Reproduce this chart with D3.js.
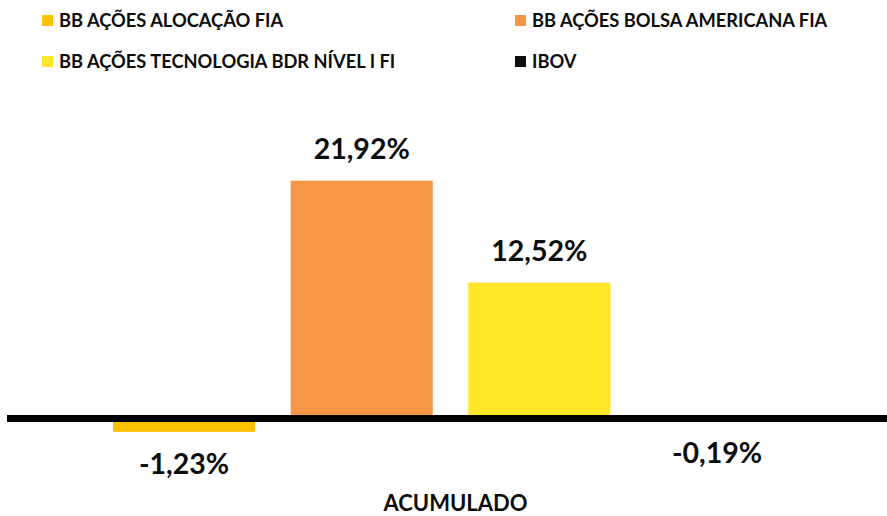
<!DOCTYPE html>
<html>
<head>
<meta charset="utf-8">
<script src="https://cdn.jsdelivr.net/npm/d3@7"></script>
<style>
  body { margin: 0; background: #fff; }
  text { font-family: Lato, "Open Sans", sans-serif; font-weight: bold; fill: #0d0d0d; }
</style>
</head>
<body>
<div id="chart"></div>
<script>
// data
const category = "ACUMULADO";
const series = ["BB AÇÕES ALOCAÇÃO FIA", "BB AÇÕES BOLSA AMERICANA FIA", "BB AÇÕES TECNOLOGIA BDR NÍVEL I FI", "IBOV"];
const values = [-1.23, 21.92, 12.52, -0.19];
const colors = ["#ffc000", "#f79646", "#ffe629", "#0d0d0d"];

const width = 887, height = 516;

const svg = d3.select("#chart")
    .append("svg")
    .attr("width", width)
    .attr("height", height);

const x = d3.scaleBand()
    .domain(series)
    .range([95.2, 805.9])
    .paddingInner(0.2)
    .paddingOuter(0.1);

const y = d3.scaleLinear()
    .domain([-5, 25])
    .range([472.75, 147.25]);

// pt-BR style: comma decimal, plain hyphen for the minus
const fmt = v => (v < 0 ? "-" : "") + Math.abs(v).toFixed(2).replace(".", ",") + "%";

// bars
svg.append("g")
    .selectAll("rect")
    .data(series)
    .join("rect")
    .attr("x", d => x(d))
    .attr("width", x.bandwidth())
    .attr("y", (d, i) => y(Math.max(0, values[i])))
    .attr("height", (d, i) => Math.abs(y(values[i]) - y(0)))
    .attr("fill", (d, i) => colors[i]);

// zero line
svg.append("line")
    .attr("x1", 7)
    .attr("x2", width)
    .attr("y1", y(0))
    .attr("y2", y(0))
    .attr("stroke", "#000")
    .attr("stroke-width", 7);

// value labels
svg.append("g")
    .selectAll("text")
    .data(series)
    .join("text")
    .attr("x", d => x(d) + x.bandwidth() / 2)
    .attr("y", (d, i) => values[i] >= 0 ? y(values[i]) - 22 : y(values[i]) + 42.5)
    .attr("text-anchor", "middle")
    .attr("font-size", 28.5)
    .text((d, i) => fmt(values[i]));

// category label
svg.append("text")
    .attr("x", 455.5)
    .attr("y", 511)
    .attr("text-anchor", "middle")
    .attr("font-size", 22)
    .text(category);

// legend
const legendPos = [[42, 21], [515, 21], [42, 62], [515, 62]];
const legend = svg.append("g")
    .selectAll("g")
    .data(series)
    .join("g")
    .attr("transform", (d, i) => `translate(${legendPos[i][0]},${legendPos[i][1]})`);

legend.append("rect")
    .attr("x", 0)
    .attr("y", -6)
    .attr("width", 11)
    .attr("height", 11)
    .attr("fill", (d, i) => colors[i]);

legend.append("text")
    .attr("x", 17)
    .attr("y", 6)
    .attr("font-size", 18.3)
    .text(d => d);
</script>
</body>
</html>
